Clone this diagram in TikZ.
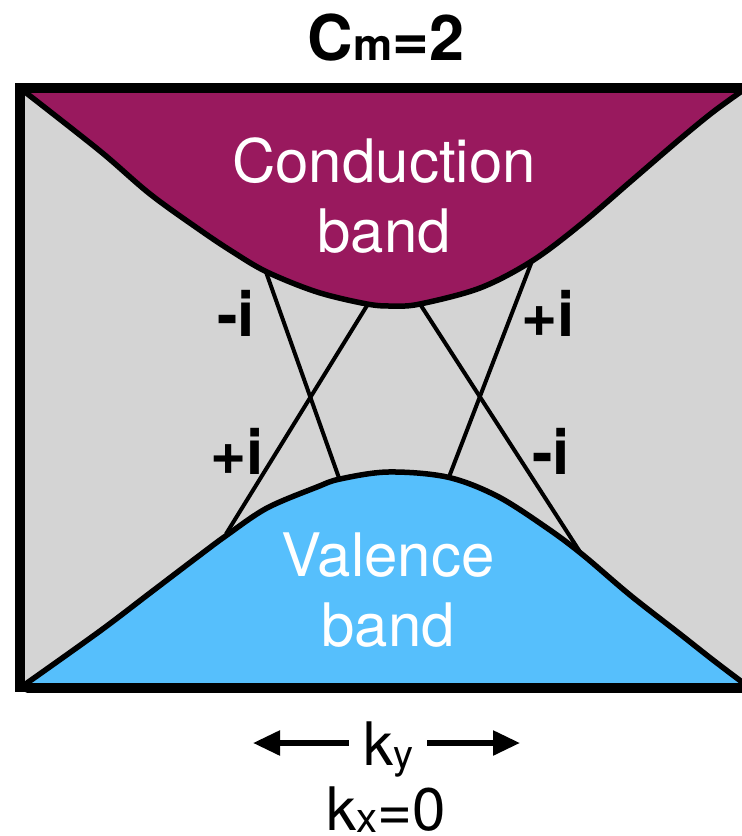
\documentclass[tikz,border=0pt]{standalone}
\usepackage{fontspec}
\setmainfont{TeX Gyre Heros}
\usetikzlibrary{arrows.meta}
\definecolor{cbmag}{RGB}{153,25,94}
\definecolor{vbblue}{RGB}{86,191,252}
\definecolor{gapgray}{RGB}{212,212,212}

\begin{document}
\begin{tikzpicture}[x=1pt,y=-1pt,
  band/.style={draw=black, line width=5.5pt, line join=round},
  cross/.style={line width=4pt},
  lbl/.style={font=\fontsize{62}{62}\selectfont\bfseries, anchor=base, inner sep=0pt},
  bandtxt/.style={text=white, align=center, font=\fontsize{60}{70}\selectfont, inner sep=0pt},
  ax/.style={font=\fontsize{60}{62}\selectfont, anchor=base, inner sep=0pt},
  arr/.style={-{Triangle[length=27pt,width=24pt]}, line width=5.5pt}]
\useasboundingbox (0,0) rectangle (742,836);
% gap between the bands
\fill[gapgray] (20,88) rectangle (742,687);
% conduction band
\filldraw[band, fill=cbmag] plot[smooth, tension=0.55] coordinates {(25,92) (100,151) (150,194) (200,230)
  (233,252) (267,272) (317,292) (367,304) (393,306) (420,304) (480,288) (532,261) (580,225) (630,182)
  (680,139) (713,112) (742,91)} -- (742,86) -- (25,86) -- cycle;
% valence band
\filldraw[band, fill=vbblue] plot[smooth, tension=0.55] coordinates {(27,683) (100,631) (150,593) (200,555)
  (227,535) (267,508) (317,487) (340,479) (388,472) (447,477) (497,496) (547,528) (583,555) (630,595)
  (680,634) (713,660) (742,682)} -- (742,690) -- (27,690) -- cycle;
% edge states
\coordinate (cA) at (266,272); \coordinate (vA) at (339,478);
\coordinate (cB) at (368,304); \coordinate (vB) at (226,534);
\coordinate (cC) at (532,261); \coordinate (vC) at (449,477);
\coordinate (cD) at (420,304); \coordinate (vD) at (582,555);
\foreach \a/\b in {cA/vA,cB/vB,cC/vC,cD/vD}
  \draw[cross] (\a) -- (\b);
% frame
\draw[line width=9.5pt, line join=miter] (742,88) -| (20,687.5) -- (742,687.5);
\node[font=\fontsize{63}{63}\selectfont\bfseries, anchor=base, inner sep=0pt] (title) at (386,60)
  {C{\fontsize{44}{44}\selectfont m}=2};
\node[bandtxt] (cond) at (384,196) {Conduction\\band};
\node[bandtxt] (val) at (388,590) {Valence\\band};
\node[lbl] (mi1) at (236,336) {-i};
\node[lbl] (pi1) at (237,474) {+i};
\node[lbl] (pi2) at (548,336) {+i};
\node[lbl] (mi2) at (551,474) {-i};
% momentum axis
\node[ax, inner xsep=14pt] (ky) at (388,765) {k{\fontsize{40}{40}\selectfont\raisebox{-3pt}{y}}};
\coordinate (kl) at (253,743);
\coordinate (kr) at (520,743);
\draw[arr] (ky.west |- kl) -- (kl);
\draw[arr] (ky.east |- kr) -- (kr);
\node[ax] (kx) at (386,830) {k{\fontsize{42}{42}\selectfont\raisebox{-2pt}{x}}=0};
\end{tikzpicture}
\end{document}
